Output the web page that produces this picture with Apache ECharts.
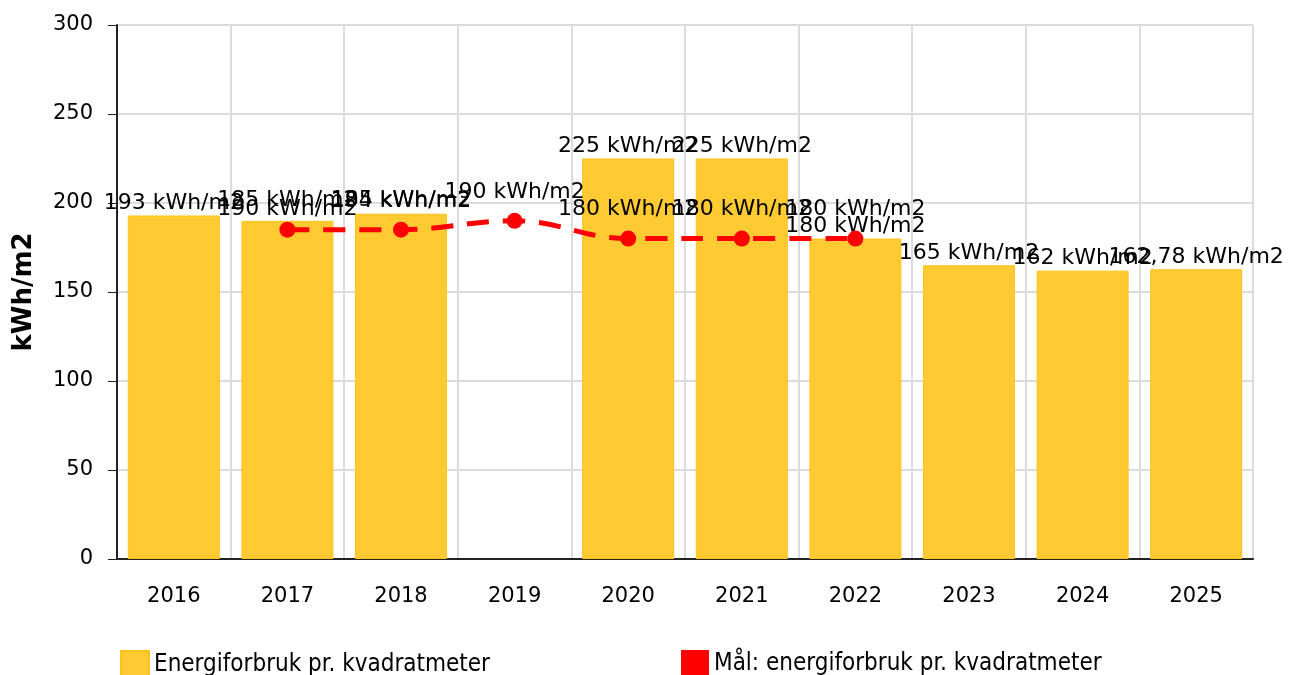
<!DOCTYPE html>
<html>
<head>
<meta charset="utf-8">
<script src="https://cdn.jsdelivr.net/npm/echarts@6/dist/echarts.min.js"></script>
<style>
  html, body { margin: 0; padding: 0; background: #fff; }
  #main { width: 1289px; height: 675px; }
</style>
</head>
<body>
<div id="main"></div>
<script>
  // år på x-aksen
  const years = ["2016", "2017", "2018", "2019", "2020", "2021", "2022", "2023", "2024", "2025"];
  // faktisk energiforbruk (kWh/m2)
  const forbruk = [193, 190, 194, null, 225, 225, 180, 165, 162, 162.78];
  // mål for energiforbruk
  const maal = [null, 185, 185, 190, 180, 180, 180, null, null, null];
  const yTicks = { min: 0, max: 300, interval: 50 };

  const font = "DejaVu Sans, Verdana, sans-serif";
  const fmt = (p) => String(p.value).replace(".", ",") + " kWh/m2";

  const chart = echarts.init(document.getElementById("main"));

  const legendText = { fontFamily: "DejaVu Sans Condensed, sans-serif", fontSize: 24, color: "#000" };

  const option = {
    animation: false,
    textStyle: { fontFamily: font },
    grid: { left: 117, right: 36, top: 25, bottom: 116, outerBoundsMode: "none" },
    legend: [
      {
        left: 115,
        top: 645,
        itemWidth: 28,
        itemHeight: 28,
        itemGap: 6,
        icon: "rect",
        data: ["Energiforbruk pr. kvadratmeter"],
        textStyle: legendText,
      },
      {
        left: 676,
        top: 645,
        itemWidth: 28,
        itemHeight: 28,
        icon: "rect",
        data: ["Mål: energiforbruk pr. kvadratmeter"],
        textStyle: legendText,
      },
    ],
    xAxis: {
      type: "category",
      data: years,
      axisLine: { lineStyle: { color: "#222", width: 2 } },
      axisTick: { alignWithLabel: true, length: 8, lineStyle: { color: "#222" } },
      axisLabel: { color: "#000", fontSize: 21, margin: 27 },
      splitLine: { show: true, lineStyle: { color: "#dcdcdc", width: 2 } },
    },
    yAxis: {
      type: "value",
      min: yTicks.min,
      max: yTicks.max,
      interval: yTicks.interval,
      name: "kWh/m2",
      nameLocation: "middle",
      nameGap: 80,
      nameTextStyle: { color: "#000", fontSize: 26, fontWeight: "bold" },
      axisLine: { show: true, lineStyle: { color: "#222", width: 2 } },
      axisTick: { show: true, length: 9, lineStyle: { color: "#222" } },
      axisLabel: { color: "#000", fontSize: 21, margin: 24 },
      splitLine: { lineStyle: { color: "#dcdcdc", width: 2 } },
    },
    series: [
      {
        name: "Energiforbruk pr. kvadratmeter",
        type: "bar",
        data: forbruk,
        barWidth: "81%",
        itemStyle: { color: "#FFCA32", borderColor: "#FFC21A", borderWidth: 1 },
        label: {
          show: true,
          position: "top",
          distance: 1,
          formatter: fmt,
          color: "#000",
          fontSize: 22,
        },
      },
      {
        name: "Mål: energiforbruk pr. kvadratmeter",
        type: "line",
        data: maal,
        smooth: 0.4,
        symbol: "circle",
        symbolSize: 16,
        itemStyle: { color: "#FF0000" },
        lineStyle: { color: "#FF0000", width: 5, type: [22, 14] },
        label: {
          show: true,
          position: "top",
          distance: 10,
          formatter: fmt,
          color: "#000",
          fontSize: 22,
        },
        z: 3,
      },
    ],
  };

  chart.setOption(option);
</script>
</body>
</html>
